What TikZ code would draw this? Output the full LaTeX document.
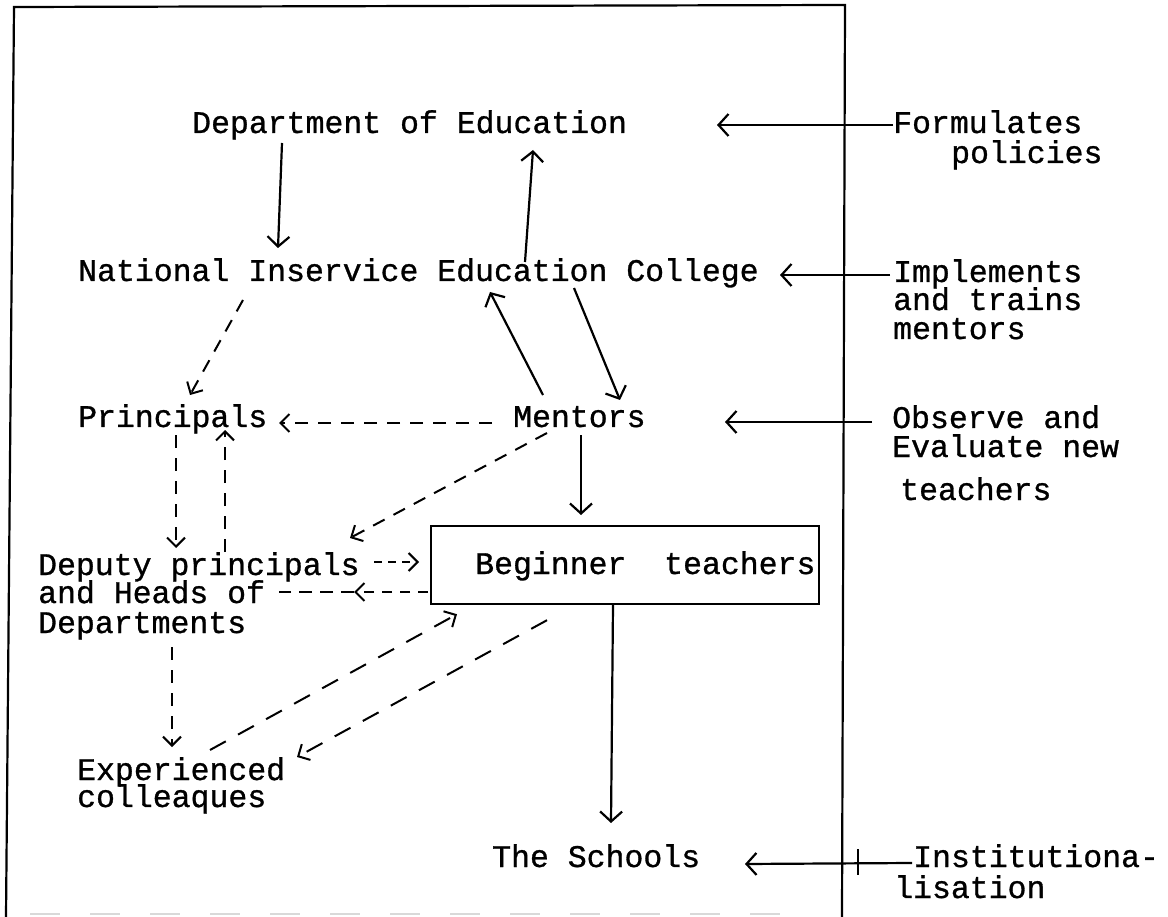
\documentclass[tikz,border=0pt]{standalone}
\usepackage{fontspec}
\setmainfont{Liberation Mono}[UprightFeatures={FakeBold=0.9}]
\usetikzlibrary{arrows.meta}
\begin{document}
\begin{tikzpicture}[x=1pt,y=-1pt,
  txt/.style={anchor=base west, inner sep=0pt, font=\fontsize{31.5}{34}\selectfont},
  link/.style={line width=2.2pt, -{Straight Barb[length=10pt,width=22pt]}},
  dlink/.style={line width=2pt, dash pattern=on 13pt off 10pt, -{Straight Barb[length=9pt,width=18pt]}},
  dplain/.style={line width=2pt, dash pattern=on 13pt off 10pt},
  frameline/.style={line width=2.2pt}]
\useasboundingbox (0,0) rectangle (1168,917);

% outer frame
\draw[frameline] (6,917) -- (14,7) -- (845,5) -- (842,917);
\draw[gray!30, line width=2pt, dash pattern=on 30pt off 30pt] (30,914) -- (790,914);

% hierarchy labels
\node[txt] (dept) at (192,133) {Department of Education};
\node[txt] (niec) at (78,281) {National Inservice Education College};
\node[txt] (prin) at (78,427) {Principals};
\node[txt] (ment) at (513,427) {Mentors};
\node[txt] (dep1) at (38,575) {Deputy principals};
\node[txt] (dep2) at (38,603) {and Heads of};
\node[txt] (dep3) at (38,633) {Departments};
\node[draw, line width=2.2pt, anchor=north west, inner sep=0pt,
      minimum width=388pt, minimum height=78pt] (beg) at (430,525) {};
\node[txt] (begtxt) at (475,574) {Beginner\ \ teachers};
\node[txt] (exp1) at (77,780) {Experienced};
\node[txt] (exp2) at (77,807) {colleaques};
\node[txt] (sch) at (492,867) {The Schools};

% role labels outside the frame
\node[txt] (form1) at (893,133) {Formulates};
\node[txt] (form2) at (951,163) {policies};
\node[txt] (impl1) at (893,282) {Implements};
\node[txt] (impl2) at (893,310) {and trains};
\node[txt] (impl3) at (893,339) {mentors};
\node[txt] (obs1) at (892,428) {Observe and};
\node[txt] (obs2) at (892,457) {Evaluate new};
\node[txt] (obs3) at (900,500) {teachers};
\node[txt] (inst1) at (913,867) {Institutiona-};
\node[txt] (inst2) at (894,898) {lisation};

% solid flows
\draw[link] ([shift={(90,10)}]dept.base west) -- ([shift={(200,-33)}]niec.base west);
\draw[link] ([shift={(447,-19)}]niec.base west) -- ([shift={(341,17)}]dept.base west);
\draw[link] ([shift={(30,-32)}]ment.base west) -- ([shift={(412,11)}]niec.base west);
\draw[link] ([shift={(496,7)}]niec.base west) -- ([shift={(107,-27)}]ment.base west);
\draw[link] ([shift={(68,8)}]ment.base west) -- ([shift={(151,-10)}]beg.north west);
\draw[link] ([shift={(183,0)}]beg.south west) -- ([shift={(119,-44)}]sch.base west);

% dashed flows
\draw[dlink] ([shift={(165,19)}]niec.base west) -- ([shift={(112,-32)}]prin.base west);
\draw[dlink] ([shift={(-21,-4)}]ment.base west) -- ([shift={(201,-4)}]prin.base west);
\draw[dlink] ([shift={(98,8)}]prin.base west) -- ([shift={(138,-27)}]dep1.base west);
\draw[dlink] ([shift={(187,-23)}]dep1.base west) -- ([shift={(147,3)}]prin.base west);
\draw[dlink] ([shift={(34,6)}]ment.base west) -- ([shift={(312,-37)}]dep1.base west);
\draw[dlink, dash pattern=on 8pt off 6pt] ([shift={(336,-13)}]dep1.base west) -- ([shift={(-11,37)}]beg.north west);
\coordinate (bdmid) at ([shift={(316,-11)}]dep2.base west);
\draw[dlink, dash pattern=on 10pt off 8pt] ([shift={(-2,67)}]beg.north west) -- (bdmid);
\draw[dplain, dash pattern=on 13pt off 8pt] (bdmid) -- ([shift={(241,-11)}]dep2.base west);
\draw[dlink] ([shift={(134,14)}]dep3.base west) -- ([shift={(95,-33)}]exp1.base west);
\draw[dlink, dash pattern=on 18pt off 14pt] ([shift={(133,-30)}]exp1.base west) -- ([shift={(27,9)}]beg.south west);
\draw[dlink, dash pattern=on 18pt off 14pt] ([shift={(117,15)}]beg.south west) -- ([shift={(220,-23)}]exp1.base west);

% role arrows
\draw[link] ([shift={(0,-8)}]form1.base west) -- ([shift={(525,-8)}]dept.base west);
\draw[link] ([shift={(-3,-7)}]impl1.base west) -- ([shift={(702,-6)}]niec.base west);
\draw[link] ([shift={(-20,-6)}]obs1.base west) -- ([shift={(212,-5)}]ment.base west);
\draw[link] ([shift={(-1,-4)}]inst1.base west) -- ([shift={(253,-3)}]sch.base west);
\draw[line width=1.4pt] ([shift={(-55,-18)}]inst1.base west) -- ([shift={(-55,8)}]inst1.base west);
\end{tikzpicture}
\end{document}
